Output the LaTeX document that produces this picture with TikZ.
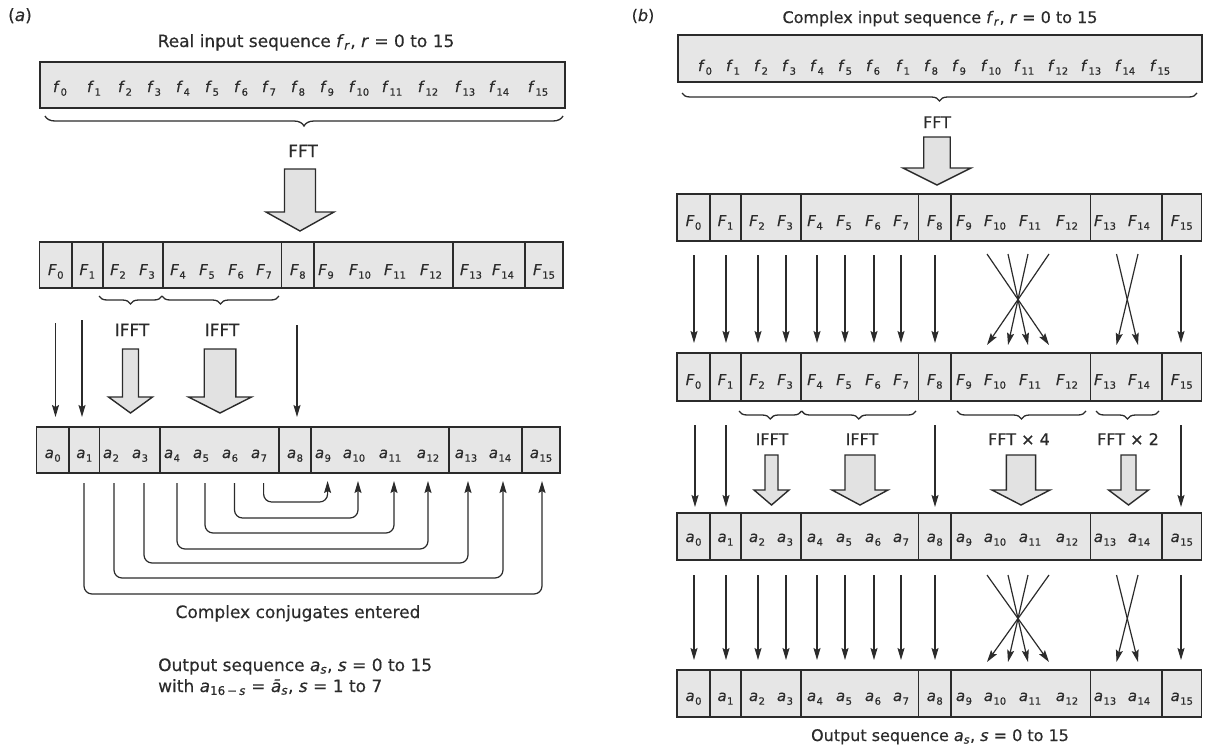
\documentclass[tikz,border=0pt]{standalone}
\usepackage{fontspec}
\setmainfont{DejaVu Sans}[FakeBold=0.4]
\usetikzlibrary{arrows.meta,decorations.pathreplacing,calc}
\definecolor{ink}{HTML}{2B2B2B}
\definecolor{cellfill}{HTML}{E6E6E6}
\definecolor{hollowfill}{HTML}{E2E2E2}
\newcommand\cv[2]{\textit{#1}\kern0.03em\raisebox{-0.45ex}{\fontsize{10}{10}\selectfont #2}}
\newcommand\cellrow[4]{%
 \foreach \xa/\xb/\n in {#4}{%
   \pgfmathsetmacro\rcw{\xb-\xa}%
   \pgfmathsetmacro\rch{#3-#2}%
   \pgfmathsetmacro\rcx{(\xa+\xb)/2}%
   \pgfmathsetmacro\rcy{(#2+#3)/2}%
   \node[cellbox,minimum width=\rcw pt,minimum height=\rch pt] (#1\n) at (\rcx,\rcy) {};
 }}
\newcommand\labrow[4]{%
 \foreach \lx/\ls [count=\i from 0] in {#4}{%
   \node[lab] (#1\i) at (\lx,#3) {\cv{#2}{\ls}};
 }}
\newcommand\harrow[6]{%
 \draw[hollow] (#1-#5,#2) -- (#1+#5,#2) -- (#1+#5,#3) -- (#1+#6,#3) -- (#1,#4) -- (#1-#6,#3) -- (#1-#5,#3) -- cycle;}
\tikzset{
 cellbox/.style={draw=ink, fill=cellfill, line width=1.6pt, inner sep=0pt, outer sep=0pt},
 lab/.style={text=ink, font=\fontsize{15}{18}\selectfont, inner sep=0pt, anchor=base},
 txta/.style={text=ink, font=\fontsize{17}{20}\selectfont, inner sep=0pt, anchor=base},
 txtb/.style={text=ink, font=\fontsize{16}{19}\selectfont, inner sep=0pt, anchor=base},
 tarrow/.style={draw=ink, line width=1.2pt, -{Stealth[length=12pt,width=7pt,inset=2pt]}},
 conj/.style={draw=ink, line width=1.2pt, rounded corners=8pt, -{Stealth[length=12pt,width=7pt,inset=2pt]}},
 hollow/.style={draw=ink, fill=hollowfill, line width=1.4pt, line join=miter},
 brc/.style={draw=ink, line width=1.3pt, decorate, decoration={brace, mirror, amplitude=#1}},
 brc/.default=8pt,
}
\begin{document}
\begin{tikzpicture}[x=1pt,y=-1pt]
\useasboundingbox (0,0) rectangle (1207,747);
% ================= (a) =================
\node[txta] (alabel) at (20,21) {(\textit{a})};
\node[txta] (atitle) at (306,47) {Real input sequence \textit{f}\textsubscript{\textit{r}}, \textit{r} = 0 to 15};
\node[cellbox,minimum width=525pt,minimum height=46pt] (ain) at (302.5,85) {};
\labrow{af}{f}{92}{60/0,94/1,125/2,154/3,183/4,212/5,241/6,269/7,298/8,327/9,359/10,392/11,428/12,465/13,499/14,538/15}
\draw[brc=10pt] (45,116) -- (563,116);
\node[txta] (afft) at (303,157) {FFT};
\harrow{300}{169}{212}{231}{15.5}{34}
\cellrow{aF}{242}{288}{39.5/72/0,72/102.7/1,102.7/163/2,163/281.6/3,281.6/314/4,314/453/5,453/525/6,525/563/7}
\labrow{aFl}{F}{275}{55.75/0,87.3/1,118/2,147/3,178/4,207/5,236/6,264/7,297.8/8,326/9,360/10,395/11,431/12,471/13,503/14,544/15}
\draw[brc=8pt] (99,296) -- (162,296);
\draw[brc=8pt] (162,296) -- (279,296);
\node[txta] (aifft1) at (132,336) {IFFT};
\node[txta] (aifft2) at (222,336) {IFFT};
\harrow{130.5}{349}{397}{413}{8}{22}
\harrow{220}{349}{397}{413}{15.8}{31.5}
\foreach \x/\ys [count=\i] in {55.5/323,82/320,297/325}{
  \coordinate (aas\i) at (\x,\ys);
  \coordinate (aae\i) at (\x,417);
  \draw[tarrow] (aas\i) -- (aae\i);
}
\cellrow{aa}{427}{473}{36.4/69/0,69/99.6/1,99.6/160/2,160/279/3,279/311/4,311/449/5,449/522/6,522/560/7}
\labrow{aal}{a}{458}{52.7/0,84.3/1,111/2,140/3,172/4,201/5,230/6,259/7,295/8,323/9,354/10,390/11,428/12,466/13,500/14,541/15}
\foreach \xs/\xe/\yl [count=\i] in {84/542/594,114/503/578,144/468/563,177/428/549,205/394/533,234.5/358/518,263.6/327.6/502}{
  \coordinate (cs\i) at (\xs,483);
  \coordinate (cb\i) at (\xe,\yl);
  \coordinate (ce\i) at (\xe,481);
  \draw[conj] (cs\i) |- (cb\i) -- (ce\i);
}
\node[txta] (aconj) at (298,618) {Complex conjugates entered};
\node[txta,anchor=base west] (aout1) at (158,671) {Output sequence \textit{a}\textsubscript{\textit{s}}, \textit{s} = 0 to 15};
\node[txta,anchor=base west] (aout2) at (158,692) {with \textit{a}\textsubscript{16\,−\,\textit{s}} = \textit{ā}\textsubscript{\textit{s}}, \textit{s} = 1 to 7};
% ================= (b) =================
\node[txtb] (blabel) at (643,21) {(\textit{b})};
\node[txtb] (btitle) at (940,23) {Complex input sequence \textit{f}\textsubscript{\textit{r}}, \textit{r} = 0 to 15};
\node[cellbox,minimum width=524pt,minimum height=47pt] (bin) at (940,58.5) {};
\labrow{bf}{f}{71}{705/0,733/1,761/2,789/3,817/4,845/5,873/6,903/1,931/8,959/9,991/10,1024/11,1058/12,1091/13,1125/14,1160/15}
\draw[brc=8pt] (682,93) -- (1197,93);
\node[txtb] (bfft) at (937,128) {FFT};
\harrow{937}{137}{168}{185}{13.25}{34}
\cellrow{bR1}{194}{241}{677/710/0,710/741/1,741/801/2,801/918.5/3,918.5/951/4,951/1090.5/5,1090.5/1162/6,1162/1201.5/7}
\labrow{bR1l}{F}{226}{693.5/0,725.5/1,757/2,785/3,815/4,844/5,873/6,901/7,934.75/8,964/9,995/10,1030/11,1067/12,1105/13,1139/14,1181.75/15}
\foreach \x [count=\i] in {694,726,758,786,817,845,874,901,935,1181}{
  \coordinate (b1s\i) at (\x,255);
  \coordinate (b1e\i) at (\x,343);
  \draw[tarrow] (b1s\i) -- (b1e\i);
}
\foreach \xs/\xe [count=\i] in {987/1049,1008/1028,1028/1008,1049/987,1116.5/1138,1138/1116.5}{
  \coordinate (b1xs\i) at (\xs,254);
  \coordinate (b1xe\i) at (\xe,345);
  \draw[tarrow] (b1xs\i) -- (b1xe\i);
}
\cellrow{bR2}{353}{401}{677/710/0,710/741/1,741/801/2,801/918.5/3,918.5/951/4,951/1090.5/5,1090.5/1162/6,1162/1201.5/7}
\labrow{bR2l}{F}{385}{693.5/0,725.5/1,757/2,785/3,815/4,844/5,873/6,901/7,934.75/8,964/9,995/10,1030/11,1067/12,1105/13,1139/14,1181.75/15}
\draw[brc=8pt] (739,411) -- (801.6,411);
\draw[brc=8pt] (801.6,411) -- (916,411);
\draw[brc=8pt] (957,411) -- (1086,411);
\draw[brc=8pt] (1096,411) -- (1159,411);
\node[txtb] (bifft1) at (772,445) {IFFT};
\node[txtb] (bifft2) at (862,445) {IFFT};
\node[txtb] (bfft4) at (1019,445) {FFT × 4};
\node[txtb] (bfft2) at (1128,445) {FFT × 2};
\harrow{771.5}{455}{490}{505}{6.5}{17.5}
\harrow{860}{455}{490}{505}{15}{28}
\harrow{1021}{455}{490}{505}{14.6}{29}
\harrow{1128.5}{455}{490}{505}{7.5}{20}
\foreach \x [count=\i] in {695,726,935,1181}{
  \coordinate (b2s\i) at (\x,425);
  \coordinate (b2e\i) at (\x,507);
  \draw[tarrow] (b2s\i) -- (b2e\i);
}
\cellrow{bR3}{513}{560}{677/710/0,710/741/1,741/801/2,801/918.5/3,918.5/951/4,951/1090.5/5,1090.5/1162/6,1162/1201.5/7}
\labrow{bR3l}{a}{542}{693.5/0,725.5/1,757/2,785/3,815/4,844/5,873/6,901/7,934.75/8,964/9,995/10,1030/11,1067/12,1105/13,1139/14,1181.75/15}
\foreach \x [count=\i] in {694,726,758,786,817,845,874,901,935,1181}{
  \coordinate (b3s\i) at (\x,575);
  \coordinate (b3e\i) at (\x,660);
  \draw[tarrow] (b3s\i) -- (b3e\i);
}
\foreach \xs/\xe [count=\i] in {987/1049,1008/1028,1028/1008,1049/987,1116.5/1138,1138/1116.5}{
  \coordinate (b3xs\i) at (\xs,575);
  \coordinate (b3xe\i) at (\xe,662);
  \draw[tarrow] (b3xs\i) -- (b3xe\i);
}
\cellrow{bR4}{670}{717}{677/710/0,710/741/1,741/801/2,801/918.5/3,918.5/951/4,951/1090.5/5,1090.5/1162/6,1162/1201.5/7}
\labrow{bR4l}{a}{701}{693.5/0,725.5/1,757/2,785/3,815/4,844/5,873/6,901/7,934.75/8,964/9,995/10,1030/11,1067/12,1105/13,1139/14,1181.75/15}
\node[txtb] (bout) at (940,741) {Output sequence \textit{a}\textsubscript{\textit{s}}, \textit{s} = 0 to 15};
\end{tikzpicture}
\end{document}
